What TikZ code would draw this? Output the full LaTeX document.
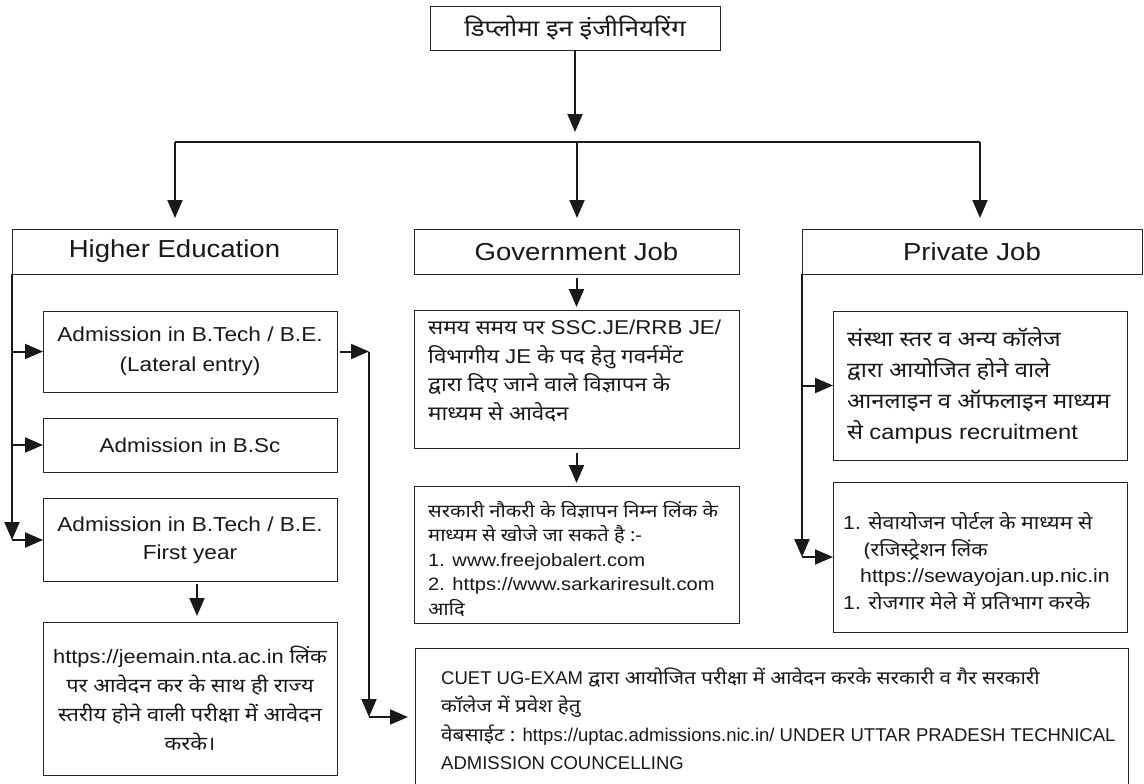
\documentclass[tikz,border=0pt]{standalone}
\usepackage{fontspec}
\setmainfont[FakeStretch=1.12]{Liberation Sans}
\newfontfamily\dev[Script=Devanagari,FakeStretch=1.12]{Noto Sans}
\newfontfamily\latf[FakeStretch=1.12]{Liberation Sans}
\newfontfamily\clat{Liberation Sans}
\newcommand\la[1]{{\latf #1}}
\newcommand\cla[1]{{\clat #1}}
\usetikzlibrary{arrows.meta}
\begin{document}
\begin{tikzpicture}[x=1pt,y=-1pt,
  bx/.style={draw=black!85, line width=0.9pt, inner sep=0pt, outer sep=0pt, text=black!90},
  tx/.style={inner sep=0pt, align=left, text=black!90},
  arr/.style={line width=2pt, black!90, -{Triangle[length=18pt,width=15pt]}},
  ln/.style={line width=2pt, black!90}]
\useasboundingbox[fill=white] (0,0) rectangle (1144,784);

% top
\node[bx, minimum width=290pt, minimum height=44pt, font=\dev\fontsize{23}{27}\selectfont] (top) at (575,28) {डिप्लोमा इन इंजीनियरिंग};

% level 1
\node[bx, minimum width=325pt, minimum height=45pt, font=\fontsize{24.6}{28}\selectfont] (he) at (174.5,251.5) {Higher Education};
\node[bx, minimum width=325pt, minimum height=45pt, font=\fontsize{24.6}{28}\selectfont] (gj) at (576.5,251.5) {Government Job};
\node[bx, minimum width=340pt, minimum height=45pt, font=\fontsize{24.6}{28}\selectfont] (pj) at (972,251.5) {Private Job};

% higher education column
\node[bx, minimum width=294pt, minimum height=81pt, align=center, font=\fontsize{20.2}{30}\selectfont] (lat) at (190,351.5) {Admission in B.Tech / B.E.\\(Lateral entry)};
\node[bx, minimum width=294pt, minimum height=54pt, font=\fontsize{20}{24}\selectfont] (bsc) at (190,445) {Admission in B.Sc};
\node[bx, minimum width=294pt, minimum height=83pt, align=center, font=\fontsize{20.2}{28}\selectfont] (fy) at (190,540) {Admission in B.Tech / B.E.\\First year};
\node[bx, minimum width=294pt, minimum height=153pt, align=center, font=\dev\fontsize{19.5}{29}\selectfont] (jee) at (190,698.5) {\la{https://jeemain.nta.ac.in} लिंक\\पर आवेदन कर के साथ ही राज्य\\स्तरीय होने वाली परीक्षा में आवेदन\\करके।};

% government column
\node[bx, minimum width=325pt, minimum height=138pt] (g2) at (576.5,379) {};
\node[tx, anchor=west, font=\dev\fontsize{20}{28.7}\selectfont] (g2t) at (428,371) {समय समय पर \la{SSC.JE/RRB JE/}\\विभागीय \la{JE} के पद हेतु गवर्नमेंट\\द्वारा दिए जाने वाले विज्ञापन के\\माध्यम से आवेदन};
\node[bx, minimum width=325pt, minimum height=137pt] (g3) at (576.5,554.5) {};
\node[tx, anchor=west, font=\dev\fontsize{18}{24.5}\selectfont] (g3t) at (428,559) {सरकारी नौकरी के विज्ञापन निम्न लिंक के\\माध्यम से खोजे जा सकते है :-\\\la{1. www.freejobalert.com}\\\la{2. https://www.sarkariresult.com}\\आदि};

% private column
\node[bx, minimum width=294pt, minimum height=149pt] (p1) at (980,385.5) {};
\node[tx, anchor=west, font=\dev\fontsize{21.2}{31}\selectfont] (p1t) at (847,386) {संस्था स्तर व अन्य कॉलेज\\द्वारा आयोजित होने वाले\\आनलाइन व ऑफलाइन माध्यम\\से \la{campus recruitment}};
\node[bx, minimum width=294pt, minimum height=150pt] (p2) at (980,557) {};
\node[tx, anchor=west, font=\dev\fontsize{19}{26.7}\selectfont] (p2t) at (843,561) {\la{1.} सेवायोजन पोर्टल के माध्यम से\\\hspace*{21pt}(रजिस्ट्रेशन लिंक\\\hspace*{17pt}\la{https://sewayojan.up.nic.in}\\\la{1.} रोजगार मेले में प्रतिभाग करके};

% CUET box
\node[bx, minimum width=713pt, minimum height=138pt] (cuet) at (771.5,717) {};
\node[tx, anchor=west, font=\dev\fontsize{18.5}{28.5}\selectfont] (cuettxt) at (441,719) {\cla{CUET UG-EXAM} द्वारा आयोजित परीक्षा में आवेदन करके सरकारी व गैर सरकारी\\कॉलेज में प्रवेश हेतु\\वेबसाईट : \cla{https://uptac.admissions.nic.in/ UNDER UTTAR PRADESH TECHNICAL}\\\cla{ADMISSION COUNCELLING}};

% connectors: top
\coordinate (topend) at (575,132);
\coordinate (busL) at (175,142);
\coordinate (busM) at (577,142);
\coordinate (busR) at (980,142);
\coordinate (heIn) at (175,218);
\coordinate (gjIn) at (577,218);
\coordinate (pjIn) at (980,218);
\draw[arr] (top.south) -- (topend);
\draw[ln] (busL) -- (busR);
\draw[arr] (busL) -- (heIn);
\draw[arr] (busM) -- (gjIn);
\draw[arr] (busR) -- (pjIn);

% higher education branches
\coordinate (hc) at (12,540);
\draw[arr] (he.south west) -- (hc);
\draw[arr] (hc) -- (fy.west);
\draw[arr] (he.south west |- lat.west) -- (lat.west);
\draw[arr] (he.south west |- bsc.west) -- (bsc.west);
\coordinate (fyOut) at (197,584);
\coordinate (jeeIn) at (197,616);
\draw[arr] (fyOut) -- (jeeIn);

% lateral entry to CUET
\coordinate (lr) at (369,351.5);
\coordinate (lb) at (369,717);
\draw[arr, shorten <=3pt] (lat.east) -- (lr);
\draw[arr] (lr) -- (lb);
\draw[arr, shorten >=7pt] (lb) -- (cuet.west);

% government branches
\draw[arr, shorten <=4pt, shorten >=3pt] (gj.south) -- (g2.north);
\draw[arr, shorten <=5pt, shorten >=3pt] (g2.south) -- (g3.north);

% private branches
\coordinate (pc) at (802,557);
\draw[arr] (pj.south west) -- (pc);
\draw[arr] (pc) -- (p2.west);
\draw[arr] (pj.south west |- p1.west) -- (p1.west);
\end{tikzpicture}
\end{document}
